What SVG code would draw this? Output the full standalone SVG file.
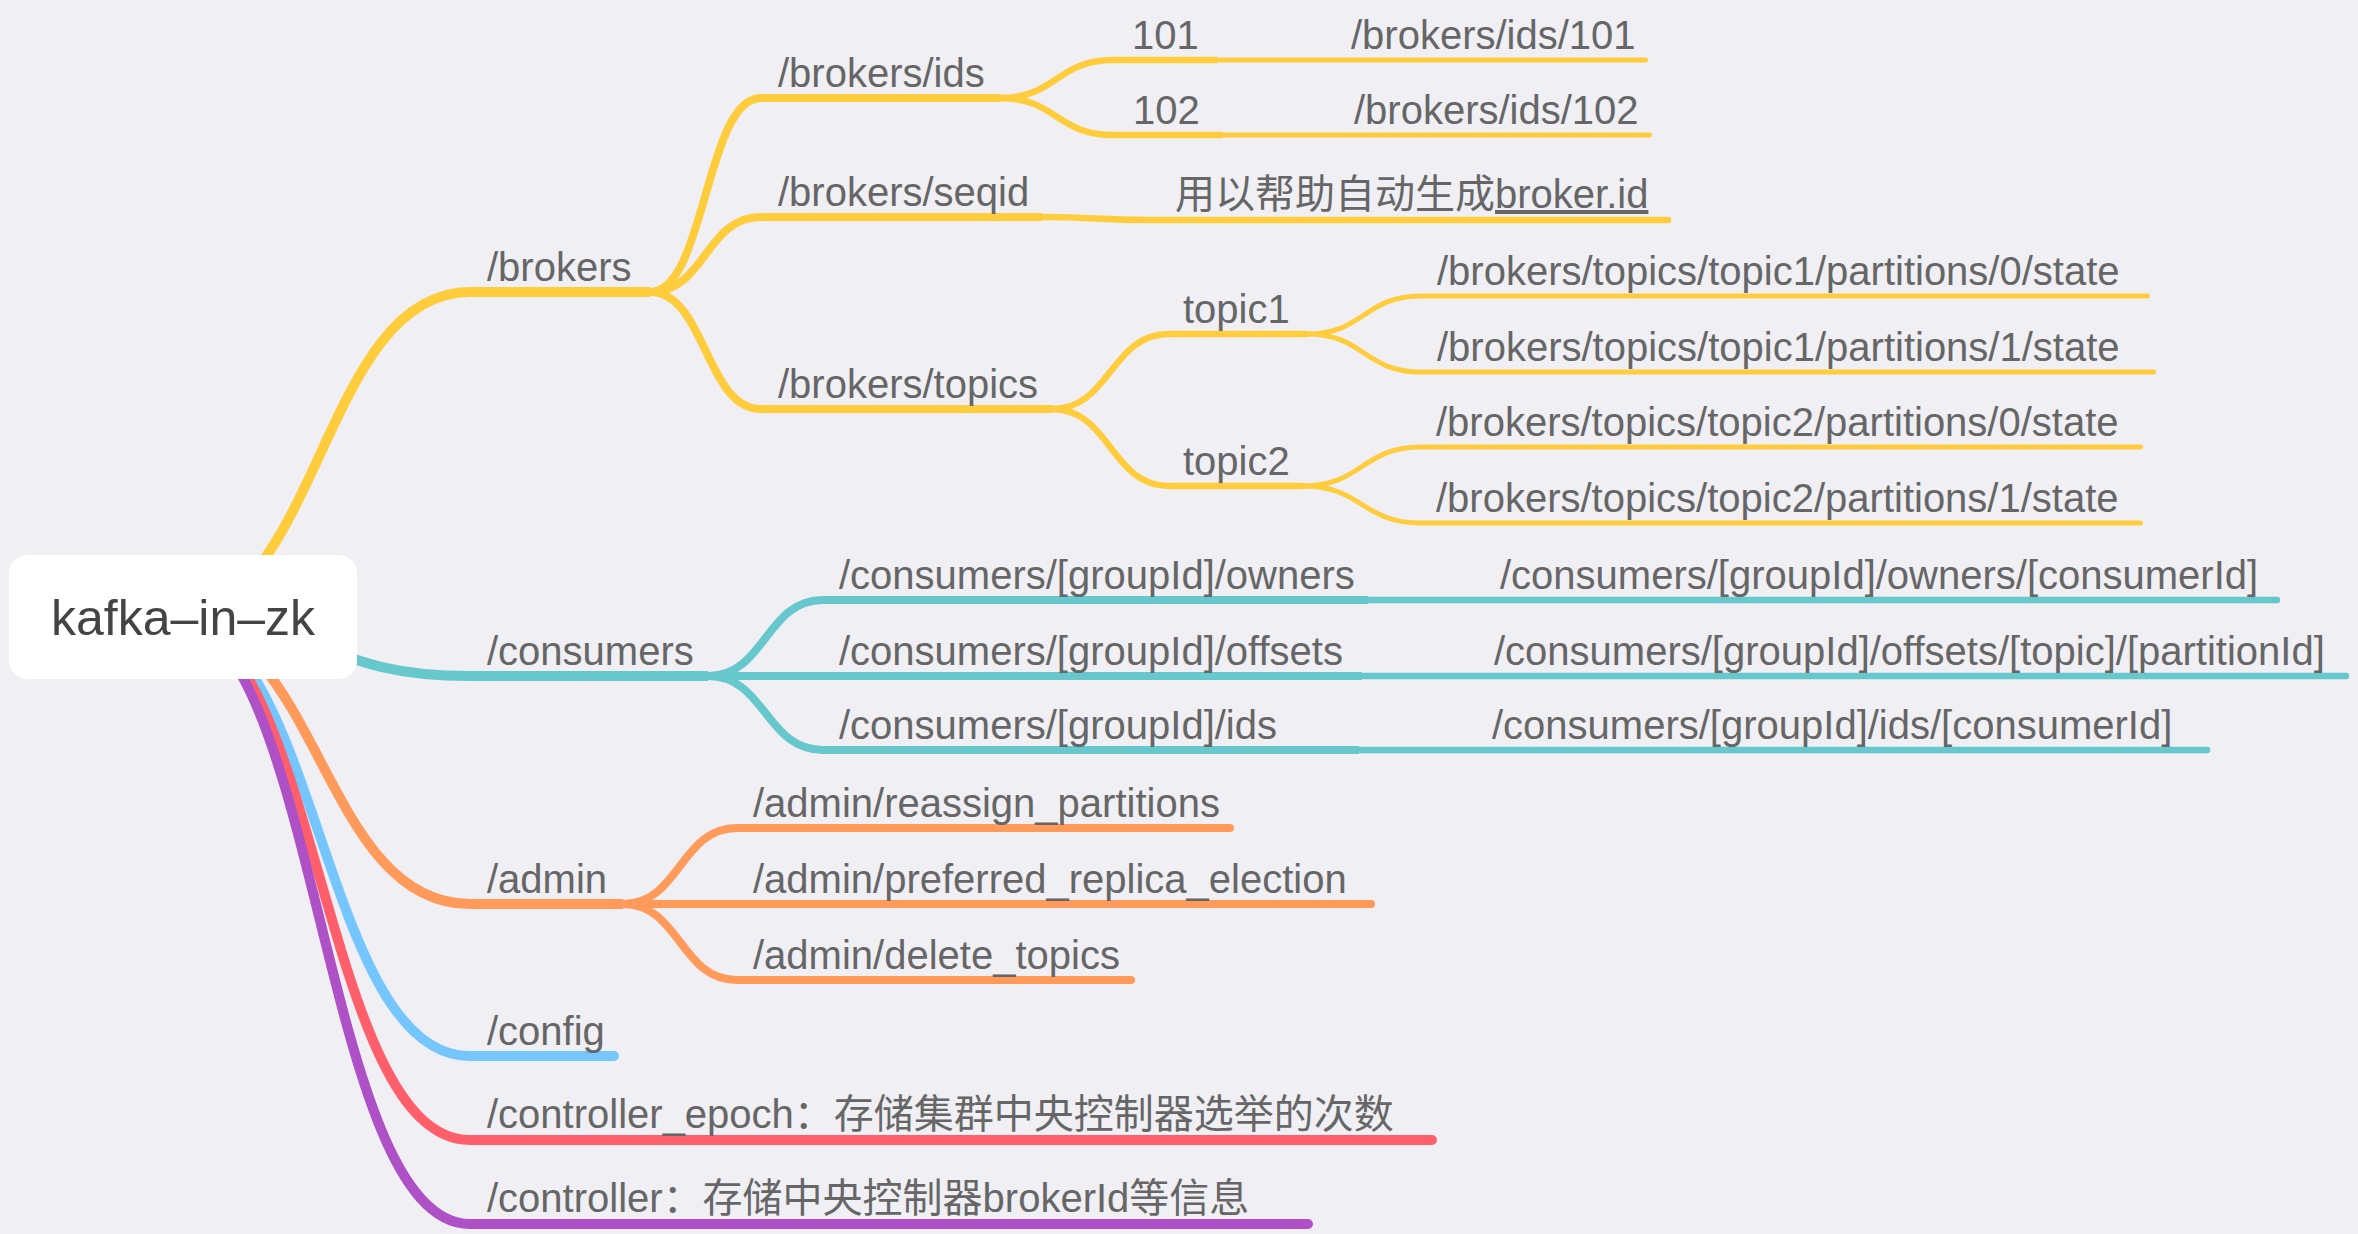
<svg xmlns="http://www.w3.org/2000/svg" width="2358" height="1234" viewBox="0 0 2358 1234">
<style>
text{font-family:'Liberation Sans','Noto Sans CJK SC',sans-serif;font-size:40px;fill:#666666}
.root{font-size:50px;fill:#444444}
path{fill:none}
.l1{stroke-width:10}
.l2{stroke-width:8}
.l3{stroke-width:6.5}
.l4{stroke-width:5}
.b{stroke-linecap:butt}
.r{stroke-linecap:round}
.y{stroke:#FFCC3C}
.t{stroke:#66C8CC}
.o{stroke:#FF9A5B}
.bl{stroke:#75C6FE}
.rd{stroke:#FF5F6B}
.pu{stroke:#AE50C6}
</style>
<rect width="2358" height="1234" fill="#EFEFF4"/>
<g id="connectors">
<path class="y l1 b" d="M170,617 C320,617 320,292 470,292 H650"/>
<path class="y l2 b" d="M650,292 C705.5,292 705.5,98 761,98 H1000"/>
<path class="y l2 b" d="M650,292 C705.5,292 705.5,217 761,217 H1042"/>
<path class="y l2 b" d="M650,292 C705.5,292 705.5,409 761,409 H1052"/>
<path class="y l3 b" d="M1000,98 C1056.5,98 1056.5,60 1113,60 H1217"/>
<path class="y l3 b" d="M1000,98 C1056.5,98 1056.5,135 1113,135 H1222"/>
<path class="y l4 r" d="M1217,60 H1645.5"/>
<path class="y l4 r" d="M1222,135 H1649.5"/>
<path class="y l3 r" d="M1042,217 C1096,217 1096,220 1150,220 H1668"/>
<path class="y l3 b" d="M1052,409 C1110.5,409 1110.5,334 1169,334 H1307"/>
<path class="y l3 b" d="M1052,409 C1110.5,409 1110.5,486 1169,486 H1303"/>
<path class="y l4 r" d="M1307,334 C1364,334 1364,296 1421,296 H2147.5"/>
<path class="y l4 r" d="M1307,334 C1364,334 1364,372 1421,372 H2153.5"/>
<path class="y l4 r" d="M1303,486 C1362,486 1362,447 1421,447 H2140.5"/>
<path class="y l4 r" d="M1303,486 C1362,486 1362,523 1421,523 H2140.5"/>
<path class="t l1 b" d="M170,617 C320,617 320,676 470,676 H708"/>
<path class="t l2 b" d="M708,676 C765.5,676 765.5,600 823,600 H1368"/>
<path class="t l2 b" d="M708,676 H1362"/>
<path class="t l2 b" d="M708,676 C765.5,676 765.5,750 823,750 H1359"/>
<path class="t l3 r" d="M1368,600 H2277"/>
<path class="t l3 r" d="M1362,676 H2346"/>
<path class="t l3 r" d="M1359,750 H2207"/>
<path class="o l1 b" d="M170,617 C320,617 320,904 470,904 H623"/>
<path class="o l2 r" d="M623,904 C680,904 680,828 737,828 H1230"/>
<path class="o l2 r" d="M623,904 H1371"/>
<path class="o l2 r" d="M623,904 C680,904 680,980 737,980 H1131"/>
<path class="bl l1 r" d="M170,617 C320,617 320,1056 470,1056 H614"/>
<path class="rd l1 r" d="M170,617 C320,617 320,1140 470,1140 H1432"/>
<path class="pu l1 r" d="M170,617 C320,617 320,1224 470,1224 H1308"/>
</g>
<g id="root">
<rect x="9" y="555" width="348" height="124" rx="18" fill="#FFFFFF"/>
<text class="root" x="183" y="635" text-anchor="middle">kafka–in–zk</text>
</g>
<g id="brokers"><text x="487" y="281">/brokers</text></g>
<g id="brokers-ids"><text x="778" y="87">/brokers/ids</text></g>
<g id="id-101"><text x="1132" y="49">101</text></g>
<g id="id-101-path"><text x="1351" y="49">/brokers/ids/101</text></g>
<g id="id-102"><text x="1133" y="124">102</text></g>
<g id="id-102-path"><text x="1354" y="124">/brokers/ids/102</text></g>
<g id="brokers-seqid"><text x="778" y="206">/brokers/seqid</text></g>
<g id="seqid-desc"><text x="1175" y="208">用以帮助自动生成<tspan text-decoration="underline">broker.id</tspan></text></g>
<g id="brokers-topics"><text x="778" y="398">/brokers/topics</text></g>
<g id="topic1"><text x="1183" y="323">topic1</text></g>
<g id="topic2"><text x="1183" y="475">topic2</text></g>
<g id="t1p0"><text x="1437" y="285">/brokers/topics/topic1/partitions/0/state</text></g>
<g id="t1p1"><text x="1437" y="361">/brokers/topics/topic1/partitions/1/state</text></g>
<g id="t2p0"><text x="1436" y="436">/brokers/topics/topic2/partitions/0/state</text></g>
<g id="t2p1"><text x="1436" y="512">/brokers/topics/topic2/partitions/1/state</text></g>
<g id="consumers"><text x="487" y="665">/consumers</text></g>
<g id="c-owners"><text x="839" y="589">/consumers/[groupId]/owners</text></g>
<g id="c-offsets"><text x="839" y="665">/consumers/[groupId]/offsets</text></g>
<g id="c-ids"><text x="839" y="739">/consumers/[groupId]/ids</text></g>
<g id="c-owners-leaf"><text x="1500" y="589">/consumers/[groupId]/owners/[consumerId]</text></g>
<g id="c-offsets-leaf"><text x="1494" y="665">/consumers/[groupId]/offsets/[topic]/[partitionId]</text></g>
<g id="c-ids-leaf"><text x="1492" y="739">/consumers/[groupId]/ids/[consumerId]</text></g>
<g id="admin"><text x="487" y="893">/admin</text></g>
<g id="a-reassign"><text x="753" y="817">/admin/reassign_partitions</text></g>
<g id="a-preferred"><text x="753" y="893">/admin/preferred_replica_election</text></g>
<g id="a-delete"><text x="753" y="969">/admin/delete_topics</text></g>
<g id="config"><text x="487" y="1045">/config</text></g>
<g id="controller-epoch"><text x="487" y="1128">/controller_epoch：存储集群中央控制器选举的次数</text></g>
<g id="controller"><text x="487" y="1212">/controller：存储中央控制器brokerId等信息</text></g>
</svg>
